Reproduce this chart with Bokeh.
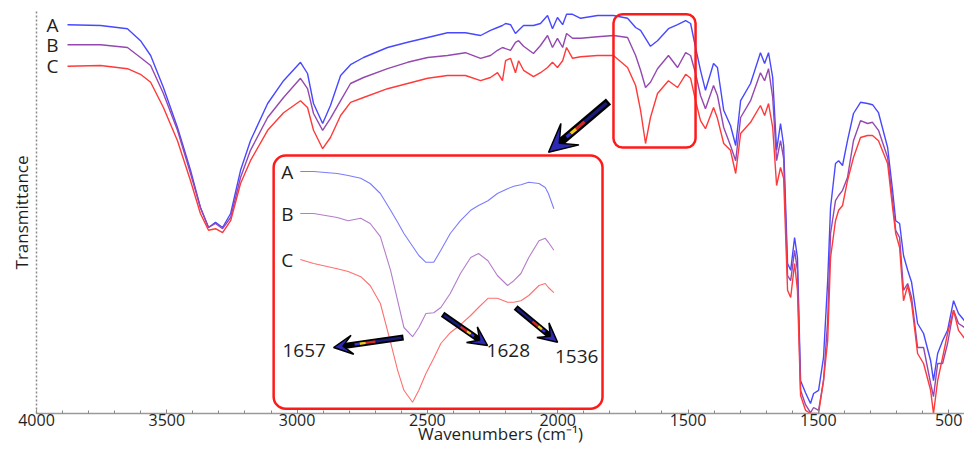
from bokeh.plotting import figure
from bokeh.models import Range1d, FixedTicker, BoxAnnotation, Arrow, VeeHead, Label
from bokeh.embed import file_html
from bokeh.resources import INLINE

# ---------------- data ----------------
series_names = ["A", "B", "C"]

wavenumber = [3881, 3754, 3651, 3601, 3562, 3513, 3459, 3409, 3371, 3340,
              3313, 3286, 3255, 3217, 3179, 3113, 3052, 2987, 2960, 2937,
              2902, 2872, 2833, 2795, 2745, 2653, 2576, 2499, 2423, 2354,
              2296, 2258, 2231, 2212, 2200, 2181, 2162, 2150, 2131, 2093,
              2066, 2039, 2020, 2001, 1981, 1966, 1943, 1912, 1847, 1786,
              1732, 1701, 1682, 1663, 1644, 1617, 1575, 1540, 1509, 1490,
              1471, 1452, 1433, 1402, 1387, 1363, 1337, 1317, 1298, 1260,
              1222, 1206, 1191, 1175, 1160, 1145, 1133, 1118, 1106, 1091,
              1080, 1068, 1049, 1030, 1018, 999, 980, 964, 953, 934,
              922, 907, 888, 865, 838, 811, 792, 769, 734, 715,
              703, 688, 673, 657, 642, 619, 596, 569, 558, 542,
              523, 504, 481, 462, 439]

trans_A = [97.2, 97.0, 96.2, 93.2, 89.5, 81.5, 71.5, 60.8, 51.5, 46.5,
           47.8, 46.5, 50.0, 60.8, 68.2, 77.5, 83.2, 87.8, 85.0, 77.5,
           72.5, 77.0, 84.5, 87.2, 89.0, 91.5, 92.8, 94.0, 95.2, 95.2,
           94.5, 95.8, 96.5, 97.0, 97.5, 97.2, 95.0, 95.8, 97.0, 97.0,
           97.5, 99.5, 96.2, 99.0, 97.2, 99.8, 99.8, 98.8, 99.5, 99.5,
           98.8, 96.5, 95.8, 93.8, 91.8, 93.2, 96.2, 97.2, 98.2, 97.5,
           91.5, 85.8, 80.8, 87.5, 86.5, 75.8, 72.0, 67.0, 78.2, 82.5,
           90.2, 87.5, 90.2, 84.0, 65.8, 72.5, 67.0, 37.5, 35.8, 44.0,
           39.0, 8.2, 5.2, 2.5, 5.0, 5.8, 14.0, 33.2, 51.5, 62.5,
           63.2, 62.0, 68.2, 75.0, 77.8, 77.5, 77.2, 75.2, 66.5, 55.8,
           48.2, 47.5, 39.5, 35.8, 32.8, 22.5, 20.0, 13.2, 8.2, 15.0,
           18.2, 20.8, 28.2, 25.0, 23.2]

trans_B = [92.2, 92.2, 91.5, 89.0, 87.0, 80.0, 70.8, 60.0, 51.5, 46.5,
           47.5, 46.2, 49.0, 59.0, 65.8, 74.0, 79.0, 83.8, 81.2, 75.0,
           70.8, 73.8, 78.2, 82.5, 84.0, 86.2, 87.8, 89.0, 89.5, 90.2,
           88.8, 89.5, 90.8, 91.5, 91.2, 90.8, 92.8, 93.2, 91.8, 90.0,
           92.0, 94.5, 91.5, 93.8, 91.5, 95.0, 93.8, 93.8, 94.2, 94.5,
           94.0, 89.5, 85.8, 81.5, 82.8, 86.2, 89.5, 86.5, 90.2, 89.5,
           85.0, 79.5, 76.2, 82.0, 79.5, 71.5, 67.0, 63.2, 74.0, 78.2,
           85.2, 83.2, 86.2, 79.0, 63.2, 68.2, 63.8, 34.5, 33.2, 40.8,
           35.8, 5.8, 2.2, 0.2, 1.5, 0.8, 8.2, 23.2, 45.0, 53.2,
           54.5, 55.8, 59.0, 68.2, 73.2, 72.5, 72.8, 70.8, 64.0, 53.2,
           45.8, 44.0, 30.8, 32.5, 29.0, 16.5, 16.5, 7.5, 4.2, 12.5,
           12.5, 17.5, 25.8, 22.5, 21.5]

trans_C = [86.8, 87.0, 86.2, 84.8, 82.8, 76.5, 68.2, 58.2, 50.0, 45.8,
           46.2, 45.2, 48.2, 57.5, 63.2, 70.8, 75.2, 78.2, 76.5, 70.8,
           66.2, 69.0, 74.5, 77.8, 79.0, 81.2, 82.5, 83.8, 84.5, 84.5,
           83.2, 84.0, 85.2, 83.2, 88.2, 88.8, 85.2, 88.2, 85.8, 84.2,
           85.2, 86.5, 87.8, 86.5, 88.2, 91.5, 88.8, 89.2, 89.5, 89.5,
           86.5, 82.0, 75.8, 67.5, 74.0, 80.0, 83.2, 81.5, 84.8, 83.8,
           78.2, 73.2, 71.2, 76.5, 73.8, 67.5, 65.8, 60.0, 70.0, 72.8,
           77.0, 74.5, 77.5, 71.5, 57.0, 61.5, 58.8, 30.8, 29.0, 37.5,
           30.8, 4.5, 0.8, 0.0, 0.0, 0.0, 8.2, 18.2, 39.0, 48.2,
           50.8, 52.0, 58.2, 64.0, 69.0, 69.5, 69.5, 68.2, 62.5, 51.5,
           45.0, 41.5, 28.2, 32.0, 27.5, 15.0, 12.5, 5.8, 0.0, 8.2,
           14.0, 20.0, 25.8, 20.8, 18.8]

# zoomed inset (1800-1477 cm-1)
inset_wavenumber = [1800, 1783, 1753, 1739, 1723, 1711, 1698, 1685, 1676, 1668,
                    1657, 1649, 1640, 1630, 1621, 1609, 1596, 1583, 1573, 1561,
                    1549, 1536, 1528, 1519, 1509, 1496, 1488, 1484, 1477]
inset_A = [60.5, 60.5, 60.0, 59.5, 58.8, 57.5, 55.0, 50.8, 47.8, 45.0,
           41.8, 39.5, 37.8, 37.8, 40.8, 45.0, 48.2, 50.8, 52.0, 53.2,
           55.0, 56.2, 56.8, 57.2, 57.8, 57.5, 56.5, 55.0, 51.2]
inset_B = [50.0, 50.0, 49.0, 48.2, 48.8, 47.5, 44.2, 35.8, 28.2, 21.5,
           19.2, 21.5, 25.0, 25.2, 26.5, 30.0, 35.0, 39.0, 40.0, 38.2,
           34.5, 32.0, 33.2, 35.0, 39.0, 43.2, 43.8, 42.8, 40.8]
inset_C = [38.5, 37.5, 36.2, 35.5, 34.2, 32.0, 27.5, 17.8, 10.8, 5.8,
           2.8, 5.8, 10.0, 13.8, 17.5, 20.2, 22.2, 24.5, 26.5, 28.8,
           28.8, 27.8, 27.8, 28.2, 29.5, 32.0, 32.5, 31.5, 30.2]

peak_labels = ["1657", "1628", "1536"]

x_ticks = [4000, 3500, 3000, 2500, 2000, 1500, 1000, 500]
x_tick_labels = ["4000", "3500", "3000", "2500", "2000", "1500", "1500", "500"]
x_minor_ticks = list(range(4000, 400, -100))

x_title = "Wavenumbers (cm\u207b\u00b9)"
y_title = "Transmittance"

# ---------------- styling ----------------
FONT = "Open Sans"
TXT = "#1e1e1e"
RED = "#ff1a1a"
main_colors = ["#4848ff", "#9448b0", "#ff3a3a"]
inset_colors = ["#7c7cff", "#b47ccb", "#ff7070"]

p = figure(width=964, height=451,
           x_range=Range1d(4000, 439), y_range=Range1d(0, 100.5),
           output_backend="svg", toolbar_location=None,
           min_border_left=36, min_border_right=0,
           min_border_top=11, min_border_bottom=38)
p.extra_x_ranges = {"inset": Range1d(2136, 954)}
p.background_fill_color = "white"
p.outline_line_color = None
p.grid.visible = False

xa = p.xaxis[0]
xa.ticker = FixedTicker(ticks=x_ticks, minor_ticks=x_minor_ticks)
xa.major_label_overrides = dict(zip(x_ticks, x_tick_labels))
xa.axis_line_color = "#9a9a9a"
xa.axis_line_width = 1.5
xa.major_tick_in = 4
xa.major_tick_out = 0
xa.minor_tick_in = 3
xa.minor_tick_out = 0
xa.major_tick_line_color = "#888888"
xa.minor_tick_line_color = "#888888"
xa.major_label_standoff = 0
xa.major_label_text_font = FONT
xa.major_label_text_font_size = "16px"
xa.major_label_text_color = TXT
xa.axis_label = x_title
xa.axis_label_standoff = -7
xa.axis_label_text_font = FONT
xa.axis_label_text_font_size = "17px"
xa.axis_label_text_font_style = "normal"
xa.axis_label_text_color = TXT

ya = p.yaxis[0]
ya.ticker = FixedTicker(ticks=[], minor_ticks=[])
ya.axis_line_color = "#8a8a8a"
ya.axis_line_dash = "2 2"
ya.axis_line_width = 1.5
ya.major_tick_line_color = None
ya.minor_tick_line_color = None
ya.axis_label = y_title
ya.axis_label_standoff = 4
ya.axis_label_text_font = FONT
ya.axis_label_text_font_size = "17px"
ya.axis_label_text_font_style = "normal"
ya.axis_label_text_color = TXT

# main spectra
for name, ys, c in zip(series_names, [trans_A, trans_B, trans_C], main_colors):
    p.line(wavenumber, ys, line_color=c, line_width=1.4)
    p.add_layout(Label(x=wavenumber[0], y=ys[0], x_offset=-15, text=name,
                       text_align="center", text_baseline="middle",
                       text_font=FONT, text_font_size="19px", text_color=TXT))

# highlight box on the main spectrum and the inset frame
p.add_layout(BoxAnnotation(left=1786, right=1471, top=99.8, bottom=66.5,
                           fill_alpha=0, line_color=RED, line_alpha=1,
                           line_width=2.5, border_radius=9))
p.add_layout(BoxAnnotation(left=3090, right=1828, top=64.5, bottom=1.2,
                           fill_alpha=0, line_color=RED, line_alpha=1,
                           line_width=2.5, border_radius=12))

# inset spectra
for name, ys, c in zip(series_names, [inset_A, inset_B, inset_C], inset_colors):
    p.line(inset_wavenumber, ys, line_color=c, line_width=1.1, x_range_name="inset")
    p.add_layout(Label(x=inset_wavenumber[0], y=ys[0], x_offset=-13, text=name,
                       x_range_name="inset",
                       text_align="center", text_baseline="middle",
                       text_font=FONT, text_font_size="19px", text_color=TXT))


def fancy_arrow(x0, y0, x1, y1, width, head, rng):
    kw = {} if rng is None else {"x_range_name": rng}
    p.add_layout(Arrow(x_start=x0, y_start=y0, x_end=x1, y_end=y1,
                       line_color="black", line_width=width,
                       end=VeeHead(size=head, fill_color="#2c2ab4",
                                   line_color="black", line_width=1.5), **kw))
    segs = [(0.03, 0.40, "#1a1a78"), (0.40, 0.54, "#d42a2a"),
            (0.54, 0.63, "#f2c81e"), (0.63, 0.70, "#3a30d0")]
    for f0, f1, c in segs:
        p.add_layout(Arrow(x_start=x0 + (x1 - x0) * f0, y_start=y0 + (y1 - y0) * f0,
                           x_end=x0 + (x1 - x0) * f1, y_end=y0 + (y1 - y0) * f1,
                           end=None, line_color=c, line_width=width * 0.4,
                           line_cap="butt", **kw))


# big arrow from the box to the inset
fancy_arrow(1805, 78.0, 2035, 65.3, 8, 28, None)

# peak arrows inside the inset
arrow_pos = [(1668.5, 19.0, 1757.6, 16.5), (1618.8, 24.8, 1561.5, 17.0),
             (1525.8, 26.5, 1472.3, 17.8)]
label_pos = [(1795, 15.8), (1535, 15.8), (1448, 14.3)]
for (ax0, ay0, ax1, ay1), (lx, ly), txt in zip(arrow_pos, label_pos, peak_labels):
    fancy_arrow(ax0, ay0, ax1, ay1, 6, 19, "inset")
    p.add_layout(Label(x=lx, y=ly, text=txt, x_range_name="inset",
                       text_align="center", text_baseline="middle",
                       text_font=FONT, text_font_size="19px", text_color=TXT))

open("out.html", "w").write(file_html(p, INLINE))
